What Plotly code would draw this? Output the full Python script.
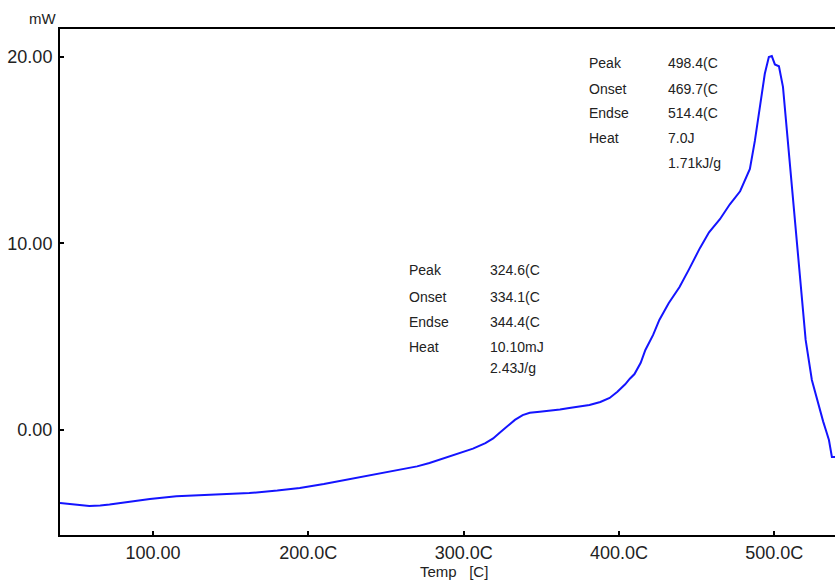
import plotly.graph_objects as go

# DSC curve: temperature (C) vs heat flow (mW)
temp = [40.1, 50, 59, 66, 72, 85, 98, 115, 130, 150, 162, 180, 194.5, 210, 227, 243, 259, 270,
        278, 288, 297.5, 306, 314, 319, 323, 328, 333, 338, 342.6, 349, 355.5, 362, 368, 375,
        381, 388, 394, 399, 404, 407, 410, 414, 417, 422, 426, 432, 439, 445, 452.1, 458, 465,
        471.4, 478, 484.3, 487.5, 490.7, 493.9, 496.5, 498.4, 500.4, 503, 505.6, 508.8, 511.5,
        514.4, 517.5, 520.2, 524.2, 528.7, 531.5, 533.2, 535.2, 537.1, 539.1]
heat = [-3.91, -4.0, -4.07, -4.05, -4.0, -3.85, -3.7, -3.55, -3.49, -3.42, -3.38, -3.25, -3.11,
        -2.9, -2.63, -2.4, -2.14, -1.95, -1.77, -1.5, -1.23, -1.0, -0.70, -0.45, -0.16, 0.2,
        0.54, 0.8, 0.92, 0.98, 1.03, 1.1, 1.18, 1.25, 1.34, 1.5, 1.72, 2.05, 2.45, 2.75, 3.0,
        3.6, 4.29, 5.1, 5.9, 6.8, 7.67, 8.6, 9.75, 10.6, 11.3, 12.1, 12.8, 14.0, 15.5, 17.3,
        19.1, 20.0, 20.05, 19.6, 19.5, 18.4, 15.5, 12.9, 10.2, 7.4, 4.83, 2.68, 1.23, 0.45, 0.0,
        -0.54, -1.45, -1.45]

x_ticks = [100, 200, 300, 400, 500]
x_labels = ["100.00", "200.0C", "300.0C", "400.0C", "500.0C"]
y_ticks = [0, 10, 20]
y_labels = ["0.00", "10.00", "20.00"]

peak2_names = ["Peak", "Onset", "Endse", "Heat", ""]
peak2_vals = ["498.4(C", "469.7(C", "514.4(C", "7.0J", "1.71kJ/g"]
peak1_names = ["Peak", "Onset", "Endse", "Heat", ""]
peak1_vals = ["324.6(C", "334.1(C", "344.4(C", "10.10mJ", "2.43J/g"]

fig = go.Figure()
fig.add_trace(go.Scatter(x=temp, y=heat, mode="lines",
                         line=dict(color="#1414ff", width=2), hoverinfo="skip"))

font_main = dict(family="Liberation Sans, Arial, sans-serif", color="#222222")

fig.update_layout(
    width=835, height=581,
    margin=dict(l=60, r=0, t=29, b=46),
    paper_bgcolor="white", plot_bgcolor="white",
    showlegend=False,
    xaxis=dict(range=[40.1, 539.1], tickvals=x_ticks, ticktext=x_labels,
               ticks="inside", ticklen=4, tickwidth=1.5, tickcolor="black",
               showline=True, linecolor="black", linewidth=2, mirror=True,
               showgrid=False, zeroline=False, automargin=False,
               tickfont=dict(size=18, **font_main)),
    yaxis=dict(range=[-5.63, 21.5], tickvals=y_ticks, ticktext=y_labels,
               ticks="inside", ticklen=4, tickwidth=1.5, tickcolor="black",
               showline=True, linecolor="black", linewidth=2,
               showgrid=False, zeroline=False, ticklabelstandoff=2, automargin=False,
               tickfont=dict(size=18, **font_main)),
)

anns = []
anns.append(dict(text="mW", xref="paper", yref="paper", x=-0.003, y=1.0, xanchor="right",
                 yanchor="bottom", showarrow=False, font=dict(size=15, **font_main)))
anns.append(dict(text="Temp   [C]", xref="paper", yref="paper", x=0.508, y=-0.073,
                 xanchor="center", yanchor="middle", showarrow=False,
                 font=dict(size=15, **font_main)))

rows2 = [19.7, 18.3, 17.0, 15.65, 14.3]
rows1 = [8.6, 7.15, 5.8, 4.45, 3.3]
for i in range(5):
    if peak2_names[i]:
        anns.append(dict(text=peak2_names[i], x=379.5, y=rows2[i], xanchor="left",
                         showarrow=False, font=dict(size=14, **font_main)))
    anns.append(dict(text=peak2_vals[i], x=430.5, y=rows2[i], xanchor="left",
                     showarrow=False, font=dict(size=14, **font_main)))
    if peak1_names[i]:
        anns.append(dict(text=peak1_names[i], x=263.5, y=rows1[i], xanchor="left",
                         showarrow=False, font=dict(size=14, **font_main)))
    anns.append(dict(text=peak1_vals[i], x=315.5, y=rows1[i], xanchor="left",
                     showarrow=False, font=dict(size=14, **font_main)))
fig.update_layout(annotations=anns)

fig.write_html("out.html", config={"displayModeBar": False},
               post_script="document.body.style.margin='0';document.body.style.overflow='hidden';")
